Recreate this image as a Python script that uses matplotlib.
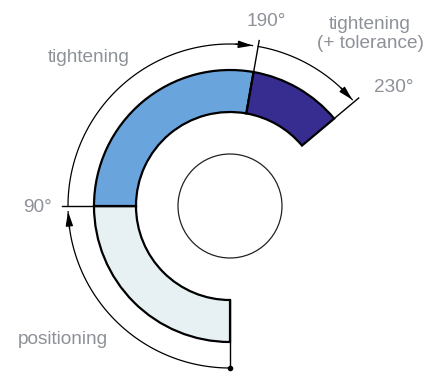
import numpy as np
import matplotlib
matplotlib.use("Agg")
import matplotlib.pyplot as plt
from matplotlib.patches import Wedge, Circle

# stage boundaries in degrees, measured clockwise from the bottom
stage_start = [0, 90, 190]
stage_end = [90, 190, 230]
stage_colors = ["#e7f0f3", "#6aa4dc", "#372c8f"]
boundary_labels = ["90°", "190°", "230°"]
stage_labels = ["positioning", "tightening", "tightening\n(+ tolerance)"]

W, H = 436, 373
cx, cy = 230, 206
r_in, r_out = 94, 136
r_dim = 162
r_tick = 168
r_hub = 52
grey = "#8d9198"

fig = plt.figure(figsize=(W / 100, H / 100), dpi=100)
ax = fig.add_axes([0, 0, 1, 1])
ax.set_xlim(0, W)
ax.set_ylim(H, 0)
ax.set_aspect("equal")
ax.axis("off")
plt.rcParams["font.family"] = ["Liberation Sans", "DejaVu Sans"]


def phi(a):
    # screen angle (y down) for an angle measured clockwise from the bottom
    return np.radians(90 + a)


def pt(a, r):
    return cx + r * np.cos(phi(a)), cy + r * np.sin(phi(a))


for a0, a1, col in zip(stage_start, stage_end, stage_colors):
    ax.add_patch(Wedge((cx, cy), r_out, 90 + a0, 90 + a1, width=r_out - r_in,
                       facecolor=col, edgecolor="black", lw=1.6, zorder=2))

ax.add_patch(Circle((cx, cy), r_hub, facecolor="none", edgecolor="#222222", lw=0.9))

# dimension arcs with arrowheads
arrow_tips = [88, 188, 229]
for a0, a1 in zip(stage_start, arrow_tips):
    t = np.linspace(a0, a1, 100)
    x, y = pt(t, r_dim)
    ax.plot(x, y, color="black", lw=0.9, zorder=3)
    ax.annotate("", xy=pt(a1, r_dim), xytext=pt(a1 - 6, r_dim),
                arrowprops=dict(arrowstyle="-|>,head_length=0.85,head_width=0.22",
                                color="black", lw=0.9, shrinkA=0, shrinkB=0), zorder=4)

# extension lines
for a, r0 in zip([0, 90, 190, 230], [r_in, r_in, r_in, r_out]):
    r1 = r_dim if a == 0 else r_tick
    x0, y0 = pt(a, r0)
    x1, y1 = pt(a, r1)
    ax.plot([x0, x1], [y0, y1], color="black", lw=1.0, zorder=3)
bx, by = pt(0, r_dim)
ax.plot(bx, by, "o", color="black", ms=3, zorder=4)

fs = 13.7
ax.text(37, 207, boundary_labels[0], color=grey, fontsize=fs, ha="center", va="center")
ax.text(266, 22, boundary_labels[1], color=grey, fontsize=fs, ha="center", va="center")
ax.text(394, 87, boundary_labels[2], color=grey, fontsize=fs, ha="center", va="center")
ax.text(63, 340, stage_labels[0], color=grey, fontsize=fs, ha="center", va="center")
ax.text(89, 57, stage_labels[1], color=grey, fontsize=fs, ha="center", va="center")
ax.text(370, 34, stage_labels[2], color=grey, fontsize=fs, ha="center", va="center",
        linespacing=1.2)

fig.savefig("out.png", dpi=100)
